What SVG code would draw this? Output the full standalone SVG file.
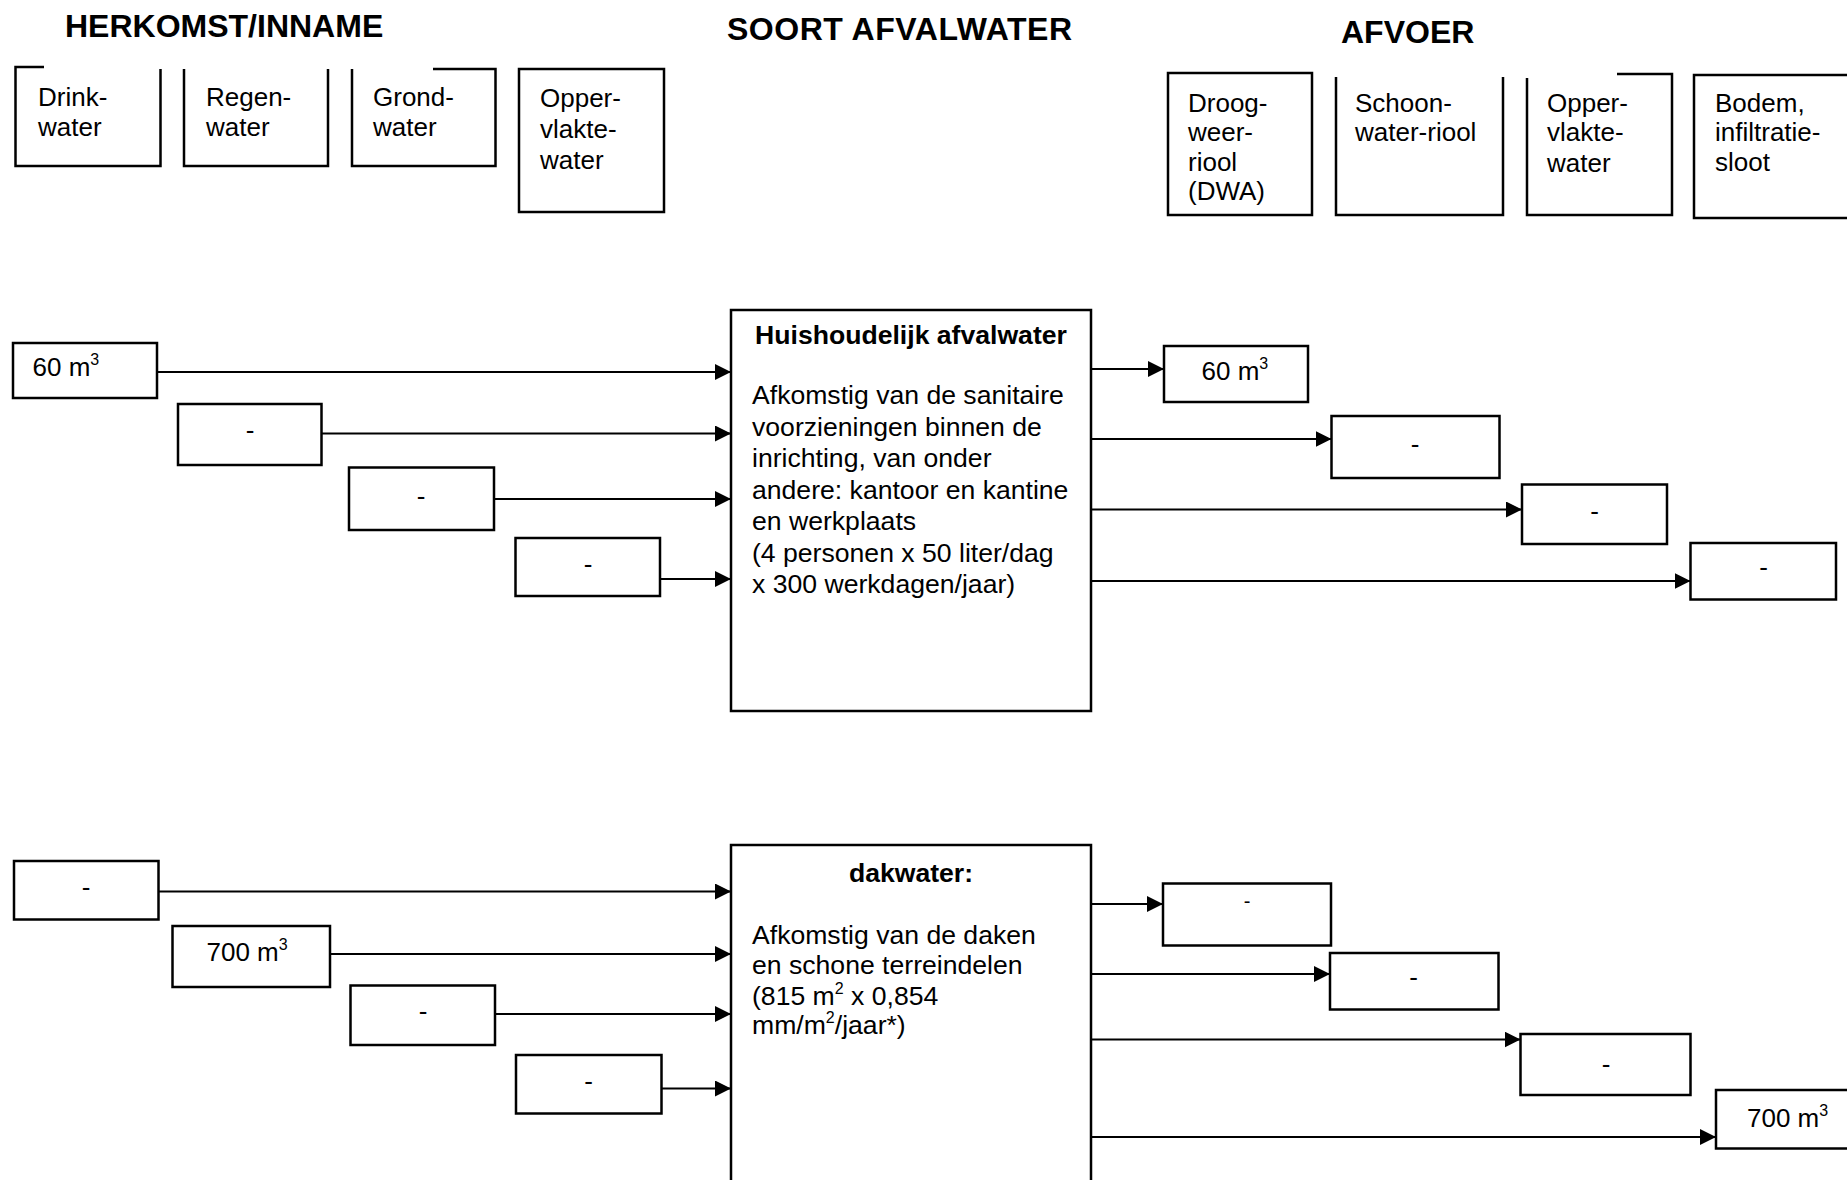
<svg xmlns="http://www.w3.org/2000/svg" width="1847" height="1180" viewBox="0 0 1847 1180">
<style>
  text { font-family: "Liberation Sans", Arial, Helvetica, sans-serif; fill: #000; }
  .hdr { font-size: 32px; font-weight: bold; }
  .lbl { font-size: 26px; }
  .ttl { font-size: 26.6px; font-weight: bold; text-anchor: middle; }
  .body { font-size: 26.6px; }
  .dash { font-size: 26px; text-anchor: middle; }
  .sup { font-size: 16px; }
  .box { fill: #fff; stroke: #000; stroke-width: 2.5; }
  .open { fill: none; stroke: #000; stroke-width: 2.5; }
  .conn line { stroke: #000; stroke-width: 2.2; marker-end: url(#arrow); }
</style>
<defs>
  <marker id="arrow" viewBox="0 0 16 16" refX="16" refY="8" markerWidth="16" markerHeight="16" markerUnits="userSpaceOnUse" orient="auto">
    <path d="M0,0 L16,8 L0,16 Z" fill="#000"/>
  </marker>
</defs>
<rect width="1847" height="1180" fill="#fff"/>

<!-- headers -->
<text class="hdr" x="65" y="37">HERKOMST/INNAME</text>
<text class="hdr" x="727" y="40" textLength="345" lengthAdjust="spacing">SOORT AFVALWATER</text>
<text class="hdr" x="1341" y="43">AFVOER</text>

<!-- source category nodes -->
<g id="drinkwater">
  <path class="open" d="M44,67 H15.5 V166 H160.5 V69"/>
  <text class="lbl" x="38" y="106">Drink-</text>
  <text class="lbl" x="38" y="136">water</text>
</g>
<g id="regenwater">
  <path class="open" d="M184,69 V166 H328 V69"/>
  <text class="lbl" x="206" y="106">Regen-</text>
  <text class="lbl" x="206" y="136">water</text>
</g>
<g id="grondwater">
  <path class="open" d="M352,69 V166 H495.5 V69 H433"/>
  <text class="lbl" x="373" y="106">Grond-</text>
  <text class="lbl" x="373" y="136">water</text>
</g>
<g id="oppervlaktewater-in">
  <rect class="box" x="519" y="69" width="145" height="143"/>
  <text class="lbl" x="540" y="107">Opper-</text>
  <text class="lbl" x="540" y="138">vlakte-</text>
  <text class="lbl" x="540" y="169">water</text>
</g>

<!-- discharge category nodes -->
<g id="droogweerriool">
  <rect class="box" x="1168" y="73" width="144" height="142"/>
  <text class="lbl" x="1188" y="112">Droog-</text>
  <text class="lbl" x="1188" y="141">weer-</text>
  <text class="lbl" x="1188" y="171">riool</text>
  <text class="lbl" x="1188" y="200">(DWA)</text>
</g>
<g id="schoonwaterriool">
  <path class="open" d="M1336,77 V215 H1503 V77"/>
  <text class="lbl" x="1355" y="112">Schoon-</text>
  <text class="lbl" x="1355" y="141">water-riool</text>
</g>
<g id="oppervlaktewater-uit">
  <path class="open" d="M1527,78 V215 H1672 V74 H1617"/>
  <text class="lbl" x="1547" y="112">Opper-</text>
  <text class="lbl" x="1547" y="141">vlakte-</text>
  <text class="lbl" x="1547" y="172">water</text>
</g>
<g id="bodem">
  <path class="open" d="M1852,75 H1694 V218 H1852"/>
  <text class="lbl" x="1715" y="112">Bodem,</text>
  <text class="lbl" x="1715" y="141">infiltratie-</text>
  <text class="lbl" x="1715" y="171">sloot</text>
</g>

<!-- Huishoudelijk afvalwater -->
<g id="huishoudelijk">
  <rect class="box" x="731" y="310" width="360" height="401"/>
  <text class="ttl" x="911" y="344">Huishoudelijk afvalwater</text>
  <text class="body" x="752" y="404">Afkomstig van de sanitaire</text>
  <text class="body" x="752" y="435.5">voorzieningen binnen de</text>
  <text class="body" x="752" y="467">inrichting, van onder</text>
  <text class="body" x="752" y="498.5">andere: kantoor en kantine</text>
  <text class="body" x="752" y="530">en werkplaats</text>
  <text class="body" x="752" y="561.5">(4 personen x 50 liter/dag</text>
  <text class="body" x="752" y="593">x 300 werkdagen/jaar)</text>
</g>

<g id="h-in-drink">
  <rect class="box" x="13" y="343" width="144" height="55"/>
  <text class="lbl" x="32.5" y="376">60 m<tspan class="sup" dy="-11">3</tspan></text>
</g>
<g id="h-in-regen">
  <rect class="box" x="178" y="404" width="143.5" height="61"/>
  <text class="dash" x="250" y="439">-</text>
</g>
<g id="h-in-grond">
  <rect class="box" x="349" y="467.5" width="145" height="62.5"/>
  <text class="dash" x="421" y="505">-</text>
</g>
<g id="h-in-opper">
  <rect class="box" x="515.5" y="538" width="144.5" height="58"/>
  <text class="dash" x="588" y="573">-</text>
</g>

<g id="h-out-dwa">
  <rect class="box" x="1164" y="346" width="144" height="56"/>
  <text class="lbl" x="1201.5" y="380">60 m<tspan class="sup" dy="-11">3</tspan></text>
</g>
<g id="h-out-schoon">
  <rect class="box" x="1331.5" y="416" width="168" height="62"/>
  <text class="dash" x="1415" y="453">-</text>
</g>
<g id="h-out-opper">
  <rect class="box" x="1522" y="484.5" width="145" height="59.5"/>
  <text class="dash" x="1594.5" y="520">-</text>
</g>
<g id="h-out-bodem">
  <rect class="box" x="1690.5" y="543" width="145.5" height="56.5"/>
  <text class="dash" x="1763.5" y="576">-</text>
</g>

<!-- dakwater -->
<g id="dakwater">
  <rect class="box" x="731" y="845" width="360" height="345"/>
  <text class="ttl" x="911" y="882">dakwater:</text>
  <text class="body" x="752" y="943.5">Afkomstig van de daken</text>
  <text class="body" x="752" y="974">en schone terreindelen</text>
  <text class="body" x="752" y="1004.5">(815 m<tspan class="sup" dy="-11">2</tspan><tspan dy="11"> x 0,854</tspan></text>
  <text class="body" x="752" y="1034">mm/m<tspan class="sup" dy="-11">2</tspan><tspan dy="11">/jaar*)</tspan></text>
</g>

<g id="d-in-drink">
  <rect class="box" x="14" y="861" width="144.5" height="58.5"/>
  <text class="dash" x="86" y="896">-</text>
</g>
<g id="d-in-regen">
  <rect class="box" x="172.5" y="926" width="157.5" height="61"/>
  <text class="lbl" x="206.5" y="961">700 m<tspan class="sup" dy="-11">3</tspan></text>
</g>
<g id="d-in-grond">
  <rect class="box" x="350.5" y="985.5" width="144.5" height="59.5"/>
  <text class="dash" x="423" y="1020">-</text>
</g>
<g id="d-in-opper">
  <rect class="box" x="516" y="1055" width="145.5" height="58.5"/>
  <text class="dash" x="588.5" y="1090">-</text>
</g>

<g id="d-out-dwa">
  <rect class="box" x="1163" y="883.5" width="168" height="62"/>
  <text class="dash" x="1247" y="908" style="font-size:20px">-</text>
</g>
<g id="d-out-schoon">
  <rect class="box" x="1330" y="953" width="168.5" height="56.5"/>
  <text class="dash" x="1413.5" y="986">-</text>
</g>
<g id="d-out-opper">
  <rect class="box" x="1520.5" y="1034" width="170" height="61"/>
  <text class="dash" x="1606" y="1073">-</text>
</g>
<g id="d-out-bodem">
  <rect class="box" x="1716" y="1090" width="140" height="58.5"/>
  <text class="lbl" x="1747" y="1127">700 m<tspan class="sup" dy="-11">3</tspan></text>
</g>

<!-- connectors -->
<g id="connectors" class="conn">
  <line x1="157" y1="372" x2="731" y2="372"/>
  <line x1="321.5" y1="433.5" x2="731" y2="433.5"/>
  <line x1="494" y1="499" x2="731" y2="499"/>
  <line x1="660" y1="579" x2="731" y2="579"/>

  <line x1="1091" y1="369" x2="1164" y2="369"/>
  <line x1="1091" y1="439" x2="1331.5" y2="439"/>
  <line x1="1091" y1="509.5" x2="1522" y2="509.5"/>
  <line x1="1091" y1="581" x2="1690.5" y2="581"/>

  <line x1="158.5" y1="891.5" x2="731" y2="891.5"/>
  <line x1="330" y1="954" x2="731" y2="954"/>
  <line x1="495" y1="1014" x2="731" y2="1014"/>
  <line x1="661.5" y1="1088.5" x2="731" y2="1088.5"/>

  <line x1="1091" y1="904" x2="1163" y2="904"/>
  <line x1="1091" y1="974" x2="1330" y2="974"/>
  <line x1="1091" y1="1039.5" x2="1520.5" y2="1039.5"/>
  <line x1="1091" y1="1137" x2="1716" y2="1137"/>
</g>
</svg>
